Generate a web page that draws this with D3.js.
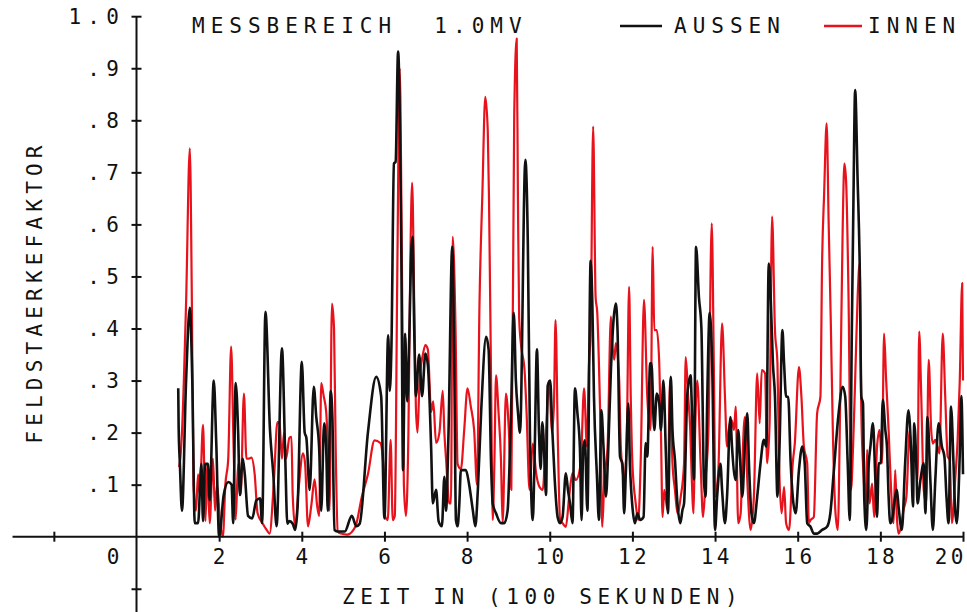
<!DOCTYPE html>
<html><head><meta charset="utf-8">
<script src="https://cdn.jsdelivr.net/npm/d3@7"></script>
<style>
html,body{margin:0;padding:0;background:#fff;}
svg{display:block;}
text{font-family:"DejaVu Sans Mono",monospace;fill:#111;white-space:pre;}
</style></head>
<body><svg id="c" width="967" height="612"></svg>
<script>
// ---- data ----
const titleText = "MESSBEREICH  1.0MV";
const seriesNames = ["AUSSEN", "INNEN"];
const xLabel = "ZEIT IN (100 SEKUNDEN)";
const yLabel = "FELDSTAERKEFAKTOR";
const xTickValues = [2,4,6,8,10,12,14,16,18,20];
const yTickValues = [0.1,0.2,0.3,0.4,0.5,0.6,0.7,0.8,0.9,1.0];
const yTickLabels = [".1",".2",".3",".4",".5",".6",".7",".8",".9","1.0"];

// AUSSEN (black): time (100 s), value
const aussenT = [1.01,1.02,1.05,1.10,1.20,1.29,1.35,1.41,1.49,1.57,1.61,1.66,1.73,1.77,1.87,1.93,2.00,2.11,2.22,2.30,2.34,2.40,2.46,2.50,2.57,2.62,2.70,2.80,2.90,2.99,3.04,3.12,3.23,3.31,3.39,3.52,3.60,3.65,3.70,3.78,3.84,3.90,4.00,4.07,4.11,4.19,4.29,4.35,4.42,4.47,4.54,4.59,4.63,4.70,4.74,4.79,4.88,5.04,5.21,5.32,5.40,5.60,5.80,5.92,6.00,6.09,6.13,6.17,6.23,6.27,6.33,6.41,6.45,6.50,6.55,6.60,6.65,6.68,6.72,6.76,6.84,6.91,6.99,7.05,7.13,7.17,7.25,7.31,7.39,7.45,7.49,7.55,7.64,7.69,7.73,7.77,7.81,7.85,7.97,8.05,8.14,8.20,8.26,8.34,8.46,8.52,8.58,8.62,8.70,8.82,8.90,8.98,9.06,9.13,9.18,9.23,9.28,9.41,9.47,9.52,9.59,9.63,9.69,9.74,9.78,9.82,9.87,9.91,9.95,10.01,10.06,10.12,10.19,10.25,10.31,10.39,10.44,10.49,10.55,10.61,10.67,10.73,10.77,10.81,10.85,10.91,10.99,11.03,11.07,11.14,11.19,11.25,11.30,11.36,11.41,11.48,11.60,11.64,11.70,11.76,11.80,11.84,11.90,11.94,12.00,12.06,12.12,12.19,12.27,12.32,12.36,12.43,12.46,12.53,12.59,12.65,12.69,12.75,12.81,12.86,12.93,12.97,13.03,13.09,13.16,13.21,13.25,13.33,13.41,13.43,13.49,13.54,13.61,13.67,13.73,13.77,13.81,13.87,13.93,14.00,14.05,14.13,14.17,14.24,14.29,14.37,14.41,14.50,14.56,14.61,14.66,14.72,14.78,14.82,14.88,14.94,15.02,15.10,15.18,15.24,15.30,15.34,15.40,15.45,15.51,15.56,15.63,15.67,15.72,15.77,15.83,15.88,15.95,16.03,16.11,16.17,16.23,16.31,16.39,16.47,16.59,16.71,16.79,16.87,16.99,17.09,17.15,17.21,17.26,17.31,17.35,17.39,17.45,17.50,17.54,17.58,17.61,17.66,17.72,17.76,17.82,17.88,17.92,17.96,18.01,18.06,18.12,18.16,18.20,18.24,18.28,18.36,18.40,18.44,18.52,18.60,18.68,18.74,18.79,18.82,18.87,18.90,18.97,19.05,19.09,19.14,19.21,19.27,19.33,19.41,19.49,19.55,19.60,19.65,19.71,19.77,19.81,19.85,19.92,19.96,20.00];
const aussenV = [.285,.21,.14,.05,.30,.44,.30,.026,.026,.14,.03,.14,.14,.07,.30,.18,.00,.08,.105,.10,.026,.295,.20,.08,.15,.12,.04,.035,.07,.074,.026,.432,.205,.12,.02,.362,.15,.025,.03,.025,.013,.06,.336,.20,.19,.09,.288,.23,.17,.05,.218,.17,.05,.28,.23,.013,.01,.01,.04,.02,.025,.20,.307,.27,.035,.387,.28,.37,.717,.72,.932,.53,.128,.39,.26,.38,.55,.576,.40,.27,.35,.27,.352,.33,.17,.064,.09,.03,.02,.115,.05,.20,.557,.33,.032,.02,.06,.128,.128,.10,.05,.02,.09,.24,.384,.36,.14,.064,.045,.026,.026,.05,.23,.43,.30,.24,.20,.724,.56,.20,.032,.14,.36,.20,.13,.22,.15,.08,.29,.30,.21,.11,.038,.026,.038,.122,.09,.064,.026,.285,.237,.17,.032,.17,.185,.05,.53,.45,.27,.12,.032,.243,.173,.077,.154,.32,.448,.397,.154,.14,.045,.12,.256,.14,.058,.026,.045,.032,.038,.18,.154,.333,.333,.205,.275,.256,.205,.30,.16,.045,.307,.205,.147,.064,.026,.051,.064,.275,.31,.27,.11,.557,.46,.40,.11,.077,.26,.43,.333,.013,.077,.14,.09,.026,.077,.23,.173,.109,.205,.141,.077,.173,.237,.141,.045,.026,.077,.141,.186,.173,.525,.474,.333,.269,.077,.173,.397,.333,.269,.269,.141,.077,.045,.128,.173,.141,.026,.019,.006,.006,.013,.019,.045,.122,.237,.288,.269,.141,.032,.397,.653,.858,.685,.525,.269,.256,.077,.013,.141,.173,.218,.109,.038,.141,.141,.263,.205,.173,.077,.026,.032,.077,.090,.058,.013,.141,.243,.173,.058,.218,.141,.064,.109,.141,.045,.23,.109,.013,.109,.218,.173,.154,.077,.026,.25,.141,.051,.026,.154,.27,.12];

// INNEN (red): time (100 s), value
const innenT = [1.03,1.06,1.10,1.20,1.29,1.34,1.38,1.44,1.49,1.53,1.61,1.67,1.71,1.77,1.85,1.90,1.95,2.02,2.09,2.15,2.22,2.29,2.35,2.40,2.46,2.52,2.60,2.66,2.72,2.78,2.86,2.93,3.05,3.15,3.22,3.32,3.41,3.46,3.52,3.57,3.62,3.70,3.75,3.78,3.84,3.92,4.03,4.08,4.15,4.23,4.31,4.37,4.42,4.47,4.53,4.59,4.63,4.67,4.73,4.78,4.82,4.87,4.95,5.10,5.30,5.45,5.60,5.76,5.90,5.97,6.02,6.08,6.15,6.20,6.25,6.31,6.37,6.42,6.47,6.52,6.58,6.63,6.67,6.72,6.76,6.80,6.85,6.93,6.99,7.05,7.13,7.18,7.25,7.33,7.41,7.45,7.49,7.57,7.61,7.65,7.72,7.77,7.85,7.93,8.01,8.09,8.17,8.24,8.30,8.37,8.44,8.50,8.53,8.58,8.62,8.66,8.70,8.76,8.82,8.86,8.94,9.01,9.07,9.14,9.20,9.23,9.26,9.31,9.39,9.44,9.51,9.59,9.67,9.75,9.83,9.91,9.99,10.05,10.10,10.14,10.20,10.25,10.31,10.39,10.47,10.55,10.63,10.75,10.83,10.90,10.95,10.99,11.05,11.11,11.15,11.19,11.23,11.27,11.32,11.40,11.48,11.52,11.56,11.60,11.68,11.72,11.80,11.86,11.92,11.96,12.00,12.08,12.14,12.20,12.28,12.36,12.44,12.49,12.53,12.59,12.65,12.69,12.73,12.77,12.85,12.91,12.97,13.03,13.09,13.17,13.25,13.29,13.35,13.40,13.43,13.48,13.51,13.57,13.65,13.71,13.77,13.84,13.92,13.97,14.01,14.08,14.17,14.24,14.29,14.33,14.40,14.46,14.50,14.56,14.62,14.66,14.72,14.78,14.86,14.94,15.02,15.08,15.13,15.21,15.26,15.32,15.38,15.45,15.51,15.55,15.61,15.67,15.72,15.79,15.88,15.93,16.03,16.09,16.15,16.23,16.27,16.31,16.39,16.47,16.55,16.59,16.64,16.70,16.75,16.80,16.85,16.91,16.97,17.03,17.09,17.13,17.17,17.23,17.29,17.34,17.39,17.45,17.50,17.54,17.60,17.64,17.68,17.74,17.80,17.85,17.92,17.98,18.04,18.09,18.14,18.20,18.26,18.32,18.36,18.40,18.44,18.50,18.56,18.63,18.71,18.76,18.85,18.90,18.94,18.99,19.05,19.11,19.17,19.23,19.27,19.33,19.43,19.51,19.57,19.63,19.68,19.73,19.81,19.87,19.92,19.98,20.00];
const innenV = [.134,.15,.20,.45,.746,.45,.10,.05,.12,.08,.215,.03,.14,.026,.15,.05,.10,.03,.0,.10,.15,.365,.17,.033,.14,.08,.275,.15,.15,.152,.12,.045,.026,.013,.006,.10,.22,.218,.15,.20,.15,.19,.192,.08,.02,.09,.16,.14,.02,.06,.11,.06,.04,.295,.27,.24,.17,.05,.448,.40,.17,.01,.006,.004,.02,.076,.12,.185,.18,.14,.038,.032,.186,.032,.04,.50,.90,.55,.10,.04,.20,.55,.68,.45,.25,.20,.30,.35,.368,.36,.24,.26,.18,.20,.28,.20,.15,.064,.064,.576,.40,.14,.13,.205,.285,.25,.205,.10,.448,.66,.845,.78,.65,.30,.032,.14,.31,.24,.147,.026,.275,.205,.09,.807,.957,.65,.42,.365,.32,.237,.09,.179,.122,.096,.09,.20,.30,.20,.25,.416,.17,.032,.026,.019,.077,.122,.109,.141,.285,.173,.333,.397,.788,.46,.43,.333,.205,.019,.109,.173,.423,.365,.34,.372,.301,.173,.109,.173,.48,.269,.141,.064,.032,.141,.455,.269,.205,.557,.397,.397,.333,.205,.038,.09,.051,.30,.141,.09,.045,.077,.141,.345,.269,.205,.128,.045,.173,.30,.141,.038,.109,.205,.602,.333,.077,.128,.41,.269,.173,.205,.224,.205,.25,.026,.045,.141,.23,.109,.013,.077,.314,.218,.32,.314,.141,.218,.615,.397,.333,.141,.045,.096,.026,.013,.141,.179,.326,.269,.173,.141,.026,.032,.038,.237,.269,.525,.66,.794,.60,.416,.205,.051,.013,.269,.60,.717,.685,.461,.09,.173,.30,.46,.525,.237,.109,.051,.167,.064,.102,.038,.173,.205,.141,.39,.301,.205,.09,.026,.128,.038,.006,.019,.051,.077,.205,.141,.154,.109,.394,.269,.09,.064,.34,.205,.179,.186,.160,.39,.269,.154,.147,.026,.109,.186,.295,.487,.30];

// ---- drawing ----
const svg = d3.select("#c");
const x = d3.scaleLinear().domain([0,20]).range([136.5,963]);
const y = d3.scaleLinear().domain([0,1]).range([536.7,16.2]);
const FS = 21;   // plotter-like monospace

function txt(g, s, px, py, anchor, ls, extra){
  const t = g.append("text").attr("x",px).attr("y",py)
    .attr("xml:space","preserve")
    .attr("font-size",FS).attr("letter-spacing",ls)
    .attr("text-anchor",anchor||"start").text(s);
  if(extra) extra(t);
  return t;
}

// data lines
const line = d3.line().x(d=>x(d[0])).y(d=>y(d[1])).curve(d3.curveMonotoneX);
const innen = innenT.map((t,i)=>[t,innenV[i]]);
const aussen = aussenT.map((t,i)=>[t,aussenV[i]]);
svg.append("path").attr("d",line(innen)).attr("fill","none")
  .attr("stroke","#e8121c").attr("stroke-width",2.2).attr("stroke-linejoin","round");
svg.append("path").attr("d",line(aussen)).attr("fill","none")
  .attr("stroke","#111").attr("stroke-width",2.6).attr("stroke-linejoin","round");

// x axis
svg.append("line").attr("x1",x(-3)).attr("x2",x(20)).attr("y1",y(0)).attr("y2",y(0))
  .attr("stroke","#111").attr("stroke-width",2);
const xAxis = d3.axisBottom(x).tickValues([-2].concat(xTickValues)).tickSize(5).tickFormat("");
const gxa = svg.append("g").attr("transform",`translate(0,${y(0)})`).call(xAxis);
gxa.select(".domain").remove();
gxa.selectAll(".tick line").attr("y1",-5).attr("stroke","#111").attr("stroke-width",2);
const XLS = 3.4;
xTickValues.forEach(v=>{
  const px = Math.min(x(v), 949);
  txt(svg, String(v), px+XLS/2, 564, "middle", XLS);
});
txt(svg, "0", x(0)-23.5+XLS/2, 564, "middle", XLS);

// y axis
svg.append("line").attr("x1",x(0)).attr("x2",x(0)).attr("y1",y(1.0)).attr("y2",612)
  .attr("stroke","#111").attr("stroke-width",2);
const yAxis = d3.axisRight(y).tickValues(yTickValues.concat([-0.1])).tickSize(5).tickFormat("");
const gya = svg.append("g").attr("transform",`translate(${x(0)},0)`).call(yAxis);
gya.select(".domain").remove();
gya.selectAll(".tick line").attr("x1",-5).attr("stroke","#111").attr("stroke-width",2);
yTickValues.forEach((v,i)=>{
  txt(svg, yTickLabels[i], 125, y(v)+7.5, "end", 6.2);
});

// axis titles
txt(svg, xLabel, 342, 604, "start", 5.6);
txt(svg, yLabel, 0, 0, "middle", 5.2, t=>t.attr("transform",`translate(42,${292}) rotate(-90)`));

// title + legend
txt(svg, titleText, 192, 33, "start", 6.0);
svg.append("line").attr("x1",620).attr("x2",662).attr("y1",26).attr("y2",26)
  .attr("stroke","#111").attr("stroke-width",2.4);
txt(svg, seriesNames[0], 674, 33, "start", 6.0);
svg.append("line").attr("x1",824).attr("x2",862).attr("y1",26).attr("y2",26)
  .attr("stroke","#e8121c").attr("stroke-width",2.4);
txt(svg, seriesNames[1], 868, 33, "start", 6.0);
</script></body></html>
